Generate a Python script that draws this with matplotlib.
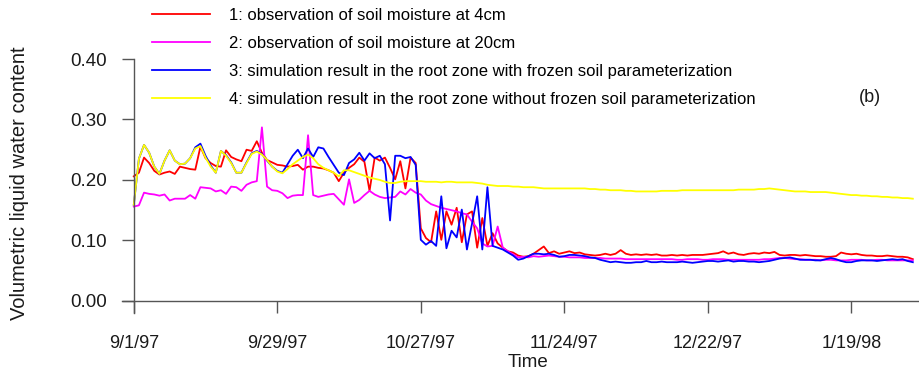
import numpy as np
import pandas as pd
import matplotlib
matplotlib.use("Agg")
import matplotlib.pyplot as plt
import matplotlib.dates as mdates

plt.rcParams['font.family'] = ['Liberation Sans', 'DejaVu Sans']

# daily values from 9/1/97
start = "1997-09-01"

obs_4cm = [
    0.206, 0.212, 0.237, 0.228, 0.215, 0.209, 0.212, 0.214, 0.210, 0.222,
    0.220, 0.218, 0.217, 0.255, 0.236, 0.228, 0.223, 0.222, 0.249, 0.238,
    0.234, 0.231, 0.250, 0.248, 0.264, 0.245, 0.233, 0.229, 0.225, 0.224,
    0.222, 0.223, 0.225, 0.217, 0.222, 0.222, 0.220, 0.219, 0.216, 0.212,
    0.198, 0.212, 0.220, 0.226, 0.237, 0.230, 0.182, 0.237, 0.232, 0.237,
    0.220, 0.201, 0.231, 0.186, 0.237, 0.228, 0.120, 0.104, 0.097, 0.148,
    0.101, 0.148, 0.126, 0.154, 0.097, 0.143, 0.148, 0.088, 0.137, 0.091,
    0.112, 0.095, 0.088, 0.082, 0.080, 0.075, 0.073, 0.074, 0.078, 0.084,
    0.090, 0.079, 0.082, 0.078, 0.080, 0.082, 0.079, 0.080, 0.077, 0.076,
    0.075, 0.076, 0.078, 0.076, 0.078, 0.084, 0.078, 0.076, 0.077, 0.076,
    0.077, 0.076, 0.077, 0.075, 0.075, 0.076, 0.075, 0.076, 0.075, 0.076,
    0.076, 0.076, 0.077, 0.078, 0.079, 0.082, 0.078, 0.080, 0.077, 0.076,
    0.078, 0.079, 0.078, 0.080, 0.079, 0.081, 0.076, 0.075, 0.076, 0.076,
    0.075, 0.076, 0.075, 0.074, 0.074, 0.073, 0.073, 0.074, 0.080, 0.078,
    0.077, 0.078, 0.076, 0.075, 0.075, 0.074, 0.074, 0.075, 0.074, 0.073,
    0.073, 0.072, 0.069,
]

obs_20cm = [
    0.156, 0.158, 0.179, 0.177, 0.176, 0.174, 0.176, 0.166, 0.169, 0.169,
    0.169, 0.175, 0.169, 0.188, 0.187, 0.186, 0.181, 0.183, 0.177, 0.189,
    0.188, 0.182, 0.192, 0.196, 0.198, 0.287, 0.189, 0.183, 0.182, 0.178,
    0.170, 0.174, 0.175, 0.175, 0.274, 0.175, 0.172, 0.174, 0.176, 0.177,
    0.168, 0.159, 0.201, 0.162, 0.167, 0.175, 0.182, 0.176, 0.172, 0.170,
    0.171, 0.172, 0.181, 0.176, 0.185, 0.179, 0.176, 0.166, 0.160, 0.157,
    0.154, 0.152, 0.150, 0.148, 0.145, 0.143, 0.131, 0.120, 0.095, 0.090,
    0.091, 0.123, 0.088, 0.082, 0.077, 0.072, 0.073, 0.072, 0.074, 0.073,
    0.074, 0.075, 0.074, 0.073, 0.073, 0.072, 0.072, 0.072, 0.071, 0.071,
    0.071, 0.071, 0.070, 0.070, 0.070, 0.070, 0.069, 0.069, 0.069, 0.069,
    0.069, 0.069, 0.069, 0.069, 0.069, 0.069, 0.068, 0.068, 0.069, 0.069,
    0.069, 0.068, 0.068, 0.069, 0.069, 0.069, 0.068, 0.068, 0.068, 0.068,
    0.068, 0.068, 0.068, 0.069, 0.069, 0.070, 0.071, 0.071, 0.070, 0.069,
    0.069, 0.068, 0.068, 0.068, 0.067, 0.068, 0.068, 0.067, 0.067, 0.067,
    0.068, 0.068, 0.068, 0.067, 0.067, 0.068, 0.068, 0.067, 0.067, 0.067,
    0.067, 0.067, 0.067,
]

sim_frozen = [
    0.159, 0.235, 0.258, 0.245, 0.222, 0.210, 0.232, 0.249, 0.232, 0.226,
    0.227, 0.236, 0.254, 0.260, 0.240, 0.224, 0.212, 0.248, 0.241, 0.229,
    0.212, 0.212, 0.229, 0.244, 0.248, 0.243, 0.232, 0.222, 0.215, 0.212,
    0.226, 0.240, 0.250, 0.236, 0.252, 0.238, 0.254, 0.252, 0.238, 0.225,
    0.212, 0.208, 0.228, 0.234, 0.245, 0.232, 0.244, 0.236, 0.240, 0.226,
    0.133, 0.240, 0.240, 0.236, 0.238, 0.225, 0.101, 0.093, 0.099, 0.091,
    0.173, 0.087, 0.116, 0.105, 0.151, 0.085, 0.128, 0.173, 0.085, 0.188,
    0.091, 0.088, 0.085, 0.080, 0.075, 0.068, 0.070, 0.074, 0.078, 0.078,
    0.077, 0.078, 0.076, 0.073, 0.074, 0.076, 0.076, 0.075, 0.074, 0.072,
    0.071, 0.068, 0.066, 0.064, 0.065, 0.064, 0.063, 0.063, 0.064, 0.064,
    0.066, 0.064, 0.064, 0.065, 0.064, 0.064, 0.064, 0.065, 0.064, 0.063,
    0.064, 0.065, 0.066, 0.066, 0.065, 0.066, 0.067, 0.065, 0.066, 0.066,
    0.065, 0.065, 0.064, 0.065, 0.066, 0.068, 0.070, 0.071, 0.072, 0.070,
    0.068, 0.068, 0.068, 0.067, 0.067, 0.069, 0.071, 0.069, 0.066, 0.064,
    0.064, 0.066, 0.067, 0.067, 0.067, 0.066, 0.067, 0.068, 0.069, 0.068,
    0.069, 0.066, 0.064,
]

sim_unfrozen = [
    0.159, 0.235, 0.258, 0.245, 0.222, 0.210, 0.232, 0.249, 0.232, 0.226,
    0.227, 0.236, 0.252, 0.256, 0.237, 0.222, 0.212, 0.248, 0.240, 0.228,
    0.212, 0.212, 0.228, 0.243, 0.247, 0.242, 0.233, 0.222, 0.214, 0.211,
    0.218, 0.226, 0.232, 0.238, 0.242, 0.236, 0.226, 0.220, 0.216, 0.212,
    0.206, 0.216, 0.216, 0.213, 0.210, 0.207, 0.204, 0.202, 0.200, 0.197,
    0.195, 0.195, 0.197, 0.198, 0.198, 0.198, 0.198, 0.197, 0.197, 0.197,
    0.196, 0.197, 0.197, 0.196, 0.196, 0.196, 0.196, 0.195, 0.194, 0.192,
    0.191, 0.190, 0.190, 0.190, 0.189, 0.189, 0.188, 0.188, 0.188, 0.187,
    0.186, 0.186, 0.186, 0.186, 0.186, 0.186, 0.186, 0.186, 0.186, 0.185,
    0.185, 0.184, 0.184, 0.183, 0.183, 0.183, 0.182, 0.182, 0.181, 0.181,
    0.181, 0.181, 0.181, 0.182, 0.182, 0.182, 0.182, 0.183, 0.183, 0.183,
    0.183, 0.183, 0.183, 0.183, 0.183, 0.183, 0.183, 0.183, 0.184, 0.184,
    0.184, 0.184, 0.185, 0.185, 0.186, 0.185, 0.184, 0.183, 0.182, 0.181,
    0.181, 0.181, 0.180, 0.180, 0.180, 0.180, 0.179, 0.178, 0.177, 0.176,
    0.175, 0.175, 0.174, 0.174, 0.173, 0.173, 0.172, 0.172, 0.171, 0.171,
    0.170, 0.170, 0.169,
]

labels = [
    "1: observation of soil moisture at 4cm",
    "2: observation of soil moisture at 20cm",
    "3: simulation result in the root zone with frozen soil parameterization",
    "4: simulation result in the root zone without frozen soil parameterization",
]
colors = ["#ff0000", "#ff00ff", "#0000ff", "#ffff00"]

tick_dates = ["1997-09-01", "1997-09-29", "1997-10-27", "1997-11-24",
              "1997-12-22", "1998-01-19"]
y_ticks = [0.0, 0.1, 0.2, 0.3, 0.4]

dates = pd.date_range(start, periods=len(obs_4cm), freq="D")
t0 = pd.Timestamp(start)

fig = plt.figure(figsize=(9.2, 3.73), dpi=100)
ax = fig.add_axes([122 / 920, 60 / 373, 798 / 920, 254 / 373])

for vals, c, lab in zip([obs_4cm, obs_20cm, sim_frozen, sim_unfrozen], colors, labels):
    ax.plot(dates, vals, color=c, lw=1.3, label=lab)

ax.set_xlim(t0 - pd.Timedelta(days=2.3), t0 + pd.Timedelta(days=153.4))
ax.set_ylim(-0.02, 0.40)

axc = "#555555"
for s in ["top", "right"]:
    ax.spines[s].set_visible(False)
ax.spines["left"].set_position(("data", mdates.date2num(t0)))
ax.spines["left"].set_bounds(-0.02, 0.40)
ax.spines["bottom"].set_position(("data", 0.0))
for s in ["left", "bottom"]:
    ax.spines[s].set_color(axc)
    ax.spines[s].set_linewidth(1.0)

ax.set_yticks(y_ticks)
ax.set_yticklabels([f"{v:.2f}" for v in y_ticks])
ticks = [pd.Timestamp(d) for d in tick_dates]
ax.set_xticks(ticks)
ax.set_xticklabels([f"{d.month}/{d.day}/{d.year % 100:02d}" for d in ticks])
ax.tick_params(axis="both", direction="out", length=8.5, width=1.0,
               color=axc, labelsize=13, labelcolor="#1a1a1a")
ax.tick_params(axis="y", pad=11, labelsize=13.5)
ax.tick_params(axis="x", pad=16)

ax.set_ylabel("Volumetric liquid water content", fontsize=14.5, color="#1a1a1a")
ax.yaxis.set_label_coords(-93 / 798, 130 / 254)
ax.set_xlabel("Time", fontsize=13.5, color="#1a1a1a", labelpad=0)
ax.xaxis.set_label_coords((528 - 122) / 798, -41 / 254)

ax.text(870, 373 - 97, "(b)", transform=None, fontsize=13, color="#1a1a1a",
        ha="center", va="center")

fig.legend(loc="upper left", bbox_to_anchor=(152 / 920, 1 - 8 / 373),
           frameon=False, fontsize=12, handlelength=3.5, handletextpad=1.1,
           labelspacing=0.78, borderpad=0, borderaxespad=0)

fig.savefig("out.png", dpi=100)
